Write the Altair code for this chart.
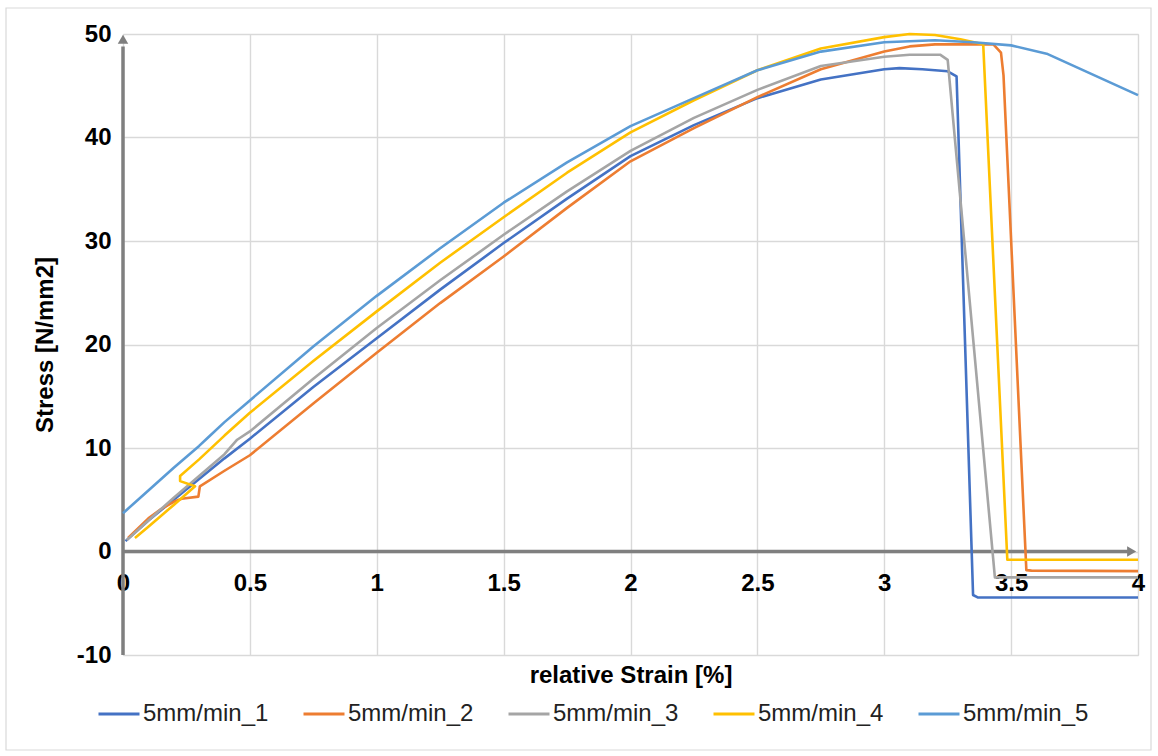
import altair as alt
import pandas as pd

series_names = ["5mm/min_1", "5mm/min_2", "5mm/min_3", "5mm/min_4", "5mm/min_5"]
colors = ["#4472C4", "#ED7D31", "#A5A5A5", "#FFC000", "#5B9BD5"]

s1_strain = [0.01, 0.1, 0.2, 0.3, 0.4, 0.5, 0.75, 1.0, 1.25, 1.5, 1.75, 2.0, 2.25, 2.5, 2.75, 3.0, 3.06, 3.15, 3.25, 3.285, 3.35, 3.37, 4.0]
s1_stress = [1.0, 3.0, 5.0, 7.0, 9.0, 10.9, 15.9, 20.6, 25.3, 29.8, 34.1, 38.2, 41.2, 43.8, 45.6, 46.6, 46.7, 46.6, 46.4, 45.9, -4.2, -4.45, -4.45]

s2_strain = [0.02, 0.1, 0.15, 0.2, 0.231, 0.297, 0.303, 0.4, 0.5, 0.75, 1.0, 1.25, 1.5, 1.75, 2.0, 2.25, 2.5, 2.75, 3.0, 3.1, 3.2, 3.43, 3.46, 3.47, 3.56, 3.58, 4.0]
s2_stress = [1.3, 3.2, 4.1, 4.8, 5.1, 5.3, 6.3, 7.8, 9.3, 14.3, 19.2, 24.0, 28.5, 33.2, 37.7, 40.9, 43.9, 46.6, 48.3, 48.8, 49.0, 49.0, 48.2, 46.0, -1.8, -1.85, -1.9]

s3_strain = [0.015, 0.1, 0.2, 0.3, 0.4, 0.45, 0.5, 0.75, 1.0, 1.25, 1.5, 1.75, 2.0, 2.25, 2.5, 2.75, 3.0, 3.1, 3.22, 3.25, 3.436, 4.0]
s3_stress = [1.1, 3.0, 5.2, 7.3, 9.4, 10.8, 11.6, 16.7, 21.6, 26.2, 30.6, 34.8, 38.7, 41.9, 44.6, 46.9, 47.8, 48.0, 48.0, 47.5, -2.5, -2.5]

s4_strain = [0.047, 0.1, 0.2, 0.284, 0.225, 0.225, 0.3, 0.4, 0.5, 0.75, 1.0, 1.25, 1.5, 1.75, 2.0, 2.25, 2.5, 2.75, 3.0, 3.1, 3.2, 3.3, 3.39, 3.485, 3.5, 4.0]
s4_stress = [1.3, 2.4, 4.5, 6.3, 6.8, 7.3, 8.9, 11.2, 13.4, 18.4, 23.2, 27.9, 32.3, 36.6, 40.5, 43.6, 46.5, 48.6, 49.7, 50.0, 49.9, 49.5, 49.0, -0.8, -0.8, -0.8]

s5_strain = [0.0, 0.1, 0.2, 0.3, 0.33, 0.4, 0.5, 0.75, 1.0, 1.25, 1.5, 1.75, 2.0, 2.25, 2.5, 2.75, 3.0, 3.2, 3.35, 3.5, 3.64, 4.0]
s5_stress = [3.7, 5.9, 8.1, 10.2, 10.9, 12.5, 14.6, 19.8, 24.7, 29.3, 33.7, 37.6, 41.1, 43.8, 46.5, 48.3, 49.2, 49.4, 49.2, 48.9, 48.1, 44.1]

x_ticks = [0, 0.5, 1, 1.5, 2, 2.5, 3, 3.5, 4]
y_ticks = [-10, 0, 10, 20, 30, 40, 50]

rows = []
for name, xs, ys in zip(series_names,
                        [s1_strain, s2_strain, s3_strain, s4_strain, s5_strain],
                        [s1_stress, s2_stress, s3_stress, s4_stress, s5_stress]):
    for i, (xv, yv) in enumerate(zip(xs, ys)):
        rows.append({"series": name, "strain": xv, "stress": yv, "idx": i})
df = pd.DataFrame(rows)

FONT = "Liberation Sans"
AXIS_GRAY = "#7F7F7F"
GRID = "#D9D9D9"

x_scale = alt.Scale(domain=[0, 4], nice=False, zero=False)
y_scale = alt.Scale(domain=[-10, 50], nice=False, zero=False)

x_axis = alt.Axis(
    values=x_ticks, labelExpr="datum.value", title="relative Strain [%]",
    offset=-103.5, domain=False, ticks=False, labelPadding=20, labelFlush=False,
    grid=True, gridColor=GRID, gridWidth=1.4,
    labelFont=FONT, labelFontSize=24, labelFontWeight="bold", labelColor="#000000",
    titleFont=FONT, titleFontSize=24, titleFontWeight="bold", titleColor="#000000",
    titleX=507.5, titleY=124, titleBaseline="middle", titleAlign="center",
)
y_axis = alt.Axis(
    values=y_ticks, labelExpr="datum.value", title="Stress [N/mm2]",
    domain=False, ticks=False, labelPadding=12, labelFlush=False,
    grid=True, gridColor=GRID, gridWidth=1.4,
    labelFont=FONT, labelFontSize=24, labelFontWeight="bold", labelColor="#000000",
    titleFont=FONT, titleFontSize=24, titleFontWeight="bold", titleColor="#000000",
    titleX=-78, titleY=310.5, titleBaseline="middle", titleAlign="center", titleAngle=270,
)

# outer chart frame
frame = alt.Chart(pd.DataFrame({"a": [0]})).mark_rect(
    fillOpacity=0, stroke=GRID, strokeWidth=1.2
).encode(x=alt.value(-117), x2=alt.value(1028), y=alt.value(-26), y2=alt.value(716))

# axis arrows
x_arrow = alt.Chart(pd.DataFrame({"strain": [0.0], "strain2": [3.96], "stress": [0.0]})).mark_rule(
    color=AXIS_GRAY, strokeWidth=3.5
).encode(
    x=alt.X("strain:Q", scale=x_scale, axis=x_axis),
    x2="strain2:Q",
    y=alt.Y("stress:Q", scale=y_scale, axis=y_axis),
)
y_arrow = alt.Chart(pd.DataFrame({"strain": [0.0], "stress": [-10.0], "stress2": [48.8]})).mark_rule(
    color=AXIS_GRAY, strokeWidth=3.5
).encode(
    x=alt.X("strain:Q", scale=x_scale, axis=x_axis),
    y=alt.Y("stress:Q", scale=y_scale, axis=y_axis),
    y2="stress2:Q",
)
x_head = alt.Chart(pd.DataFrame({"strain": [3.975], "stress": [0.0]})).mark_point(
    shape="triangle-right", filled=True, size=110, color=AXIS_GRAY, opacity=1
).encode(
    x=alt.X("strain:Q", scale=x_scale, axis=x_axis),
    y=alt.Y("stress:Q", scale=y_scale, axis=y_axis),
)
y_head = alt.Chart(pd.DataFrame({"strain": [0.0], "stress": [49.5]})).mark_point(
    shape="triangle-up", filled=True, size=110, color=AXIS_GRAY, opacity=1
).encode(
    x=alt.X("strain:Q", scale=x_scale, axis=x_axis),
    y=alt.Y("stress:Q", scale=y_scale, axis=y_axis),
)

lines = alt.Chart(df).mark_line(strokeWidth=2.6, strokeJoin="round").encode(
    x=alt.X("strain:Q", scale=x_scale, axis=x_axis),
    y=alt.Y("stress:Q", scale=y_scale, axis=y_axis),
    color=alt.Color("series:N", scale=alt.Scale(domain=series_names, range=colors), legend=alt.Legend(
        title=None, orient="none", legendX=-26, legendY=658, direction="horizontal",
        symbolType="stroke", symbolSize=1681, symbolStrokeWidth=3,
        labelFont=FONT, labelFontSize=24, labelColor="#222222",
        columnPadding=28, labelOffset=2, labelLimit=300,
    )),
    order="idx:Q",
    detail="series:N",
)

chart = alt.layer(frame, x_arrow, y_arrow, x_head, y_head, lines).properties(
    width=1015, height=621,
    padding={"left": 123, "top": 34, "right": 20, "bottom": 101},
    autosize=alt.AutoSizeParams(type="none"),
).configure_view(stroke=None).configure(background="#FFFFFF")

chart.save("out.html", embed_options={"renderer": "svg", "actions": False})
